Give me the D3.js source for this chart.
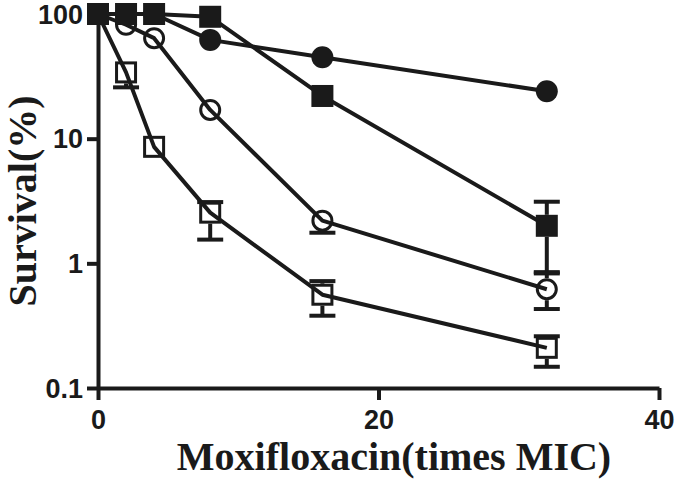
<!DOCTYPE html>
<html lang="en">
<head>
  <meta charset="UTF-8">
  <title>Survival vs Moxifloxacin</title>
  <script src="https://d3js.org/d3.v7.min.js"></script>
  <style>
    body { margin: 0; background: #fff; }
    .tick text { font-family: "Liberation Sans", Arial, sans-serif; font-weight: bold; font-size: 27px; fill: #1a1a1a; }
    .axis-title { font-family: "Liberation Serif", "Times New Roman", serif; font-weight: bold; font-size: 40px; fill: #1a1a1a; }
  </style>
</head>
<body>
  <div id="body"></div>
  <script>
    // Data
    const doses = [0, 2, 4, 8, 16, 32];
    const filledCircle = [100, 100, 100, 62, 45, 24];
    const filledSquare = [100, 100, 100, 95, 22, 2.0];
    const openCircle = [100, 82, 64, 17, 2.2, 0.62];
    const openSquare = [100, 34, 8.6, 2.55, 0.56, 0.21];

    // error bar ends (same as mean where no bar shows)
    const filledSquareLo = [100, 100, 100, 95, 22, 0.85];
    const filledSquareHi = [100, 100, 100, 95, 22, 3.12];
    const openCircleLo = [100, 82, 64, 17, 1.76, 0.43];
    const openCircleHi = [100, 82, 64, 17, 2.2, 0.83];
    const openSquareLo = [100, 25.8, 8.6, 1.55, 0.38, 0.148];
    const openSquareHi = [100, 34, 8.6, 3.1, 0.72, 0.26];

    const xTicks = [0, 20, 40];
    const yTicks = [0.1, 1, 10, 100];
    const yTickLabels = ["0.1", "1", "10", "100"];

    const width = 675, height = 479;
    const ink = "#1a1a1a";

    const svg = d3.select("#body").append("svg")
      .attr("width", width)
      .attr("height", height);

    const x = d3.scaleLinear().domain([0, 40]).range([98, 659]);
    const y = d3.scaleLog().domain([0.1, 100]).range([388, 14]);

    // axes
    const xAxis = svg.append("g")
      .attr("transform", "translate(0,388)")
      .call(d3.axisBottom(x).tickValues(xTicks).tickSize(12).tickPadding(10).tickSizeOuter(0));
    const yAxis = svg.append("g")
      .attr("transform", "translate(98,0)")
      .call(d3.axisLeft(y).tickValues(yTicks).tickFormat((d, i) => yTickLabels[i])
        .tickSize(11).tickPadding(4).tickSizeOuter(0));
    [xAxis, yAxis].forEach(g => {
      g.select(".domain").attr("stroke", ink).attr("stroke-width", 4);
      g.selectAll(".tick line").attr("stroke", ink).attr("stroke-width", 4);
    });
    yAxis.selectAll(".tick text").attr("dy", "0.34em");

    // series
    const series = [
      { vals: openSquare, lo: openSquareLo, hi: openSquareHi, shape: "square", filled: false },
      { vals: openCircle, lo: openCircleLo, hi: openCircleHi, shape: "circle", filled: false },
      { vals: filledCircle, lo: filledCircle, hi: filledCircle, shape: "circle", filled: true },
      { vals: filledSquare, lo: filledSquareLo, hi: filledSquareHi, shape: "square", filled: true }
    ];

    const line = d3.line().x(d => x(d[0])).y(d => y(d[1]));
    const half = 11, capW = 13;

    series.forEach(s => {
      const pts = doses.map((d, i) => [d, s.vals[i], s.lo[i], s.hi[i]]);
      const g = svg.append("g");

      g.append("path")
        .attr("d", line(pts))
        .attr("fill", "none")
        .attr("stroke", ink)
        .attr("stroke-width", 4)
        .attr("stroke-linejoin", "round");

      // error bars drawn from the marker edge outward
      pts.forEach(p => {
        const cx = x(p[0]), cy = y(p[1]);
        const yl = y(p[2]), yh = y(p[3]);
        if (yl > cy + half) {
          g.append("line").attr("x1", cx).attr("x2", cx).attr("y1", cy + half).attr("y2", yl)
            .attr("stroke", ink).attr("stroke-width", 4);
          g.append("line").attr("x1", cx - capW).attr("x2", cx + capW).attr("y1", yl).attr("y2", yl)
            .attr("stroke", ink).attr("stroke-width", 4);
        }
        if (yh < cy - half + 4) {
          g.append("line").attr("x1", cx).attr("x2", cx).attr("y1", cy - half).attr("y2", yh)
            .attr("stroke", ink).attr("stroke-width", 4);
          g.append("line").attr("x1", cx - capW).attr("x2", cx + capW).attr("y1", yh).attr("y2", yh)
            .attr("stroke", ink).attr("stroke-width", 4);
        }
      });

      pts.forEach(p => {
        const cx = x(p[0]), cy = y(p[1]);
        if (s.shape === "circle") {
          g.append("circle")
            .attr("cx", cx).attr("cy", cy)
            .attr("r", s.filled ? 11 : 9.5)
            .attr("fill", s.filled ? ink : "none")
            .attr("stroke", ink)
            .attr("stroke-width", s.filled ? 0 : 3);
        } else {
          const h = s.filled ? half : 9.5;
          g.append("rect")
            .attr("x", cx - h).attr("y", cy - h)
            .attr("width", 2 * h).attr("height", 2 * h)
            .attr("fill", s.filled ? ink : "none")
            .attr("stroke", ink)
            .attr("stroke-width", s.filled ? 0 : 3);
        }
      });
    });

    // axis titles
    svg.append("text")
      .attr("class", "axis-title")
      .attr("x", 394)
      .attr("y", 470)
      .attr("text-anchor", "middle")
      .text("Moxifloxacin(times MIC)");

    svg.append("text")
      .attr("class", "axis-title")
      .attr("transform", "translate(36,201) rotate(-90)")
      .attr("text-anchor", "middle")
      .text("Survival(%)");
  </script>
</body>
</html>
